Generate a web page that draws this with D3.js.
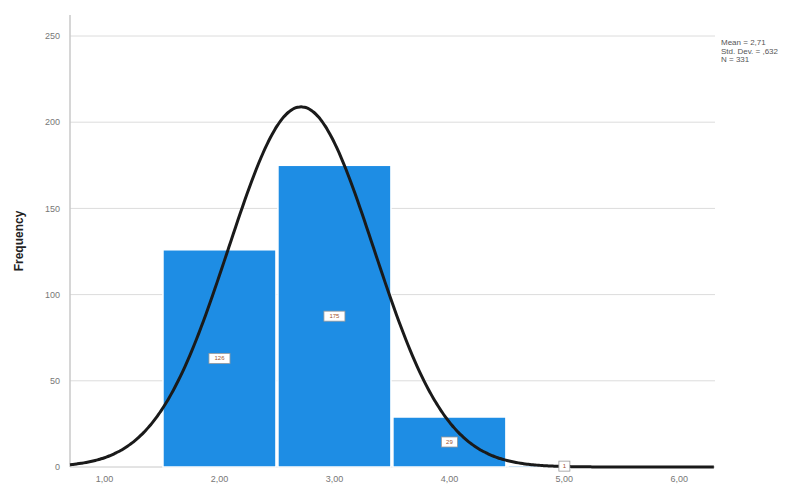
<!DOCTYPE html>
<html>
<head>
<meta charset="utf-8">
<script src="https://cdn.jsdelivr.net/npm/d3@7"></script>
<style>
  body { margin: 0; background: #fff; }
  svg text { font-family: "Liberation Sans", Arial, sans-serif; }
</style>
</head>
<body>
<svg id="chart" width="808" height="488"></svg>
<script>
// histogram bins (centre value) and counts
var binCenters = [2, 3, 4, 5]
var counts = [126, 175, 29, 1]
var xTicks = [1, 2, 3, 4, 5, 6]
var yTicks = [0, 50, 100, 150, 200, 250]
var statLines = ["Mean = 2,71", "Std. Dev. = ,632", "N = 331"]
var mean = 2.71, sd = 0.632, n = 331, binWidth = 1

var svg = d3.select("#chart")
// note: "top" is taken by window.top, so use plot* names
var plotLeft = 70, plotRight = 715, plotTop = 15, plotBottom = 467

var x = d3.scaleLinear().domain([0.7, 6.31]).range([plotLeft, plotRight])
var y = d3.scaleLinear().domain([0, 250]).range([plotBottom, 36])

var fmt = function(v) { return d3.format(".2f")(v).replace(".", ",") }

// gridlines
svg.append("g").selectAll("line").data(yTicks.filter(d => d > 0)).join("line")
    .attr("x1", plotLeft).attr("x2", plotRight)
    .attr("y1", d => y(d)).attr("y2", d => y(d))
    .attr("stroke", "#dcdcdc").attr("stroke-width", 1)

// axes lines
svg.append("line").attr("x1", plotLeft).attr("x2", plotLeft).attr("y1", plotTop).attr("y2", plotBottom)
    .attr("stroke", "#c8c8c8").attr("stroke-width", 1.5)
svg.append("line").attr("x1", plotLeft).attr("x2", plotRight).attr("y1", plotBottom).attr("y2", plotBottom)
    .attr("stroke", "#c8c8c8").attr("stroke-width", 1)

// bars
svg.append("g").selectAll("rect").data(binCenters).join("rect")
    .attr("x", (d) => x(d - binWidth / 2) + 1)
    .attr("width", (d) => x(d + binWidth / 2) - x(d - binWidth / 2) - 2)
    .attr("y", (d, i) => y(counts[i]))
    .attr("height", (d, i) => y(0) - y(counts[i]))
    .attr("fill", "#1e8de4")
    .attr("stroke", "#ffffff").attr("stroke-width", 1.5)

// normal curve
var curvePts = d3.range(0.7, 6.32, 0.02).map(function(v) {
    var f = n * binWidth / (sd * Math.sqrt(2 * Math.PI)) * Math.exp(-0.5 * Math.pow((v - mean) / sd, 2))
    return [v, f]
})
svg.append("path").datum(curvePts)
    .attr("d", d3.line().x(d => x(d[0])).y(d => y(d[1])).curve(d3.curveBasis))
    .attr("fill", "none").attr("stroke", "#1a1a1a").attr("stroke-width", 3)

// bar value labels
var lab = svg.append("g").selectAll("g").data(binCenters).join("g")
    .attr("transform", (d, i) => "translate(" + x(d) + "," + y(counts[i] / 2) + ")")
lab.append("rect")
    .attr("x", (d, i) => -(String(counts[i]).length * 2.5 + 3))
    .attr("y", -5)
    .attr("width", (d, i) => String(counts[i]).length * 5 + 6)
    .attr("height", 10)
    .attr("fill", "#ffffff").attr("stroke", "#999").attr("stroke-width", 0.8)
lab.append("text")
    .attr("text-anchor", "middle").attr("dy", "0.35em")
    .attr("font-size", 6).attr("fill", "#a0522d")
    .text((d, i) => counts[i])

// y tick labels
svg.append("g").selectAll("text").data(yTicks).join("text")
    .attr("x", plotLeft - 10).attr("y", d => y(d)).attr("dy", "0.35em")
    .attr("text-anchor", "end").attr("font-size", 9).attr("fill", "#777")
    .text(d => d)

// x tick labels
svg.append("g").selectAll("text").data(xTicks).join("text")
    .attr("x", d => x(d)).attr("y", plotBottom + 15)
    .attr("text-anchor", "middle").attr("font-size", 9).attr("fill", "#777")
    .text(d => fmt(d))

// y title
svg.append("text")
    .attr("transform", "translate(23," + (plotTop + plotBottom) / 2 + ") rotate(-90)")
    .attr("text-anchor", "middle").attr("font-size", 12).attr("fill", "#222")
    .attr("font-weight", "bold")
    .text("Frequency")

// stats box
svg.append("g").selectAll("text").data(statLines).join("text")
    .attr("x", 721).attr("y", (d, i) => 45 + i * 8.5)
    .attr("font-size", 8).attr("fill", "#555")
    .text(d => d)
</script>
</body>
</html>
